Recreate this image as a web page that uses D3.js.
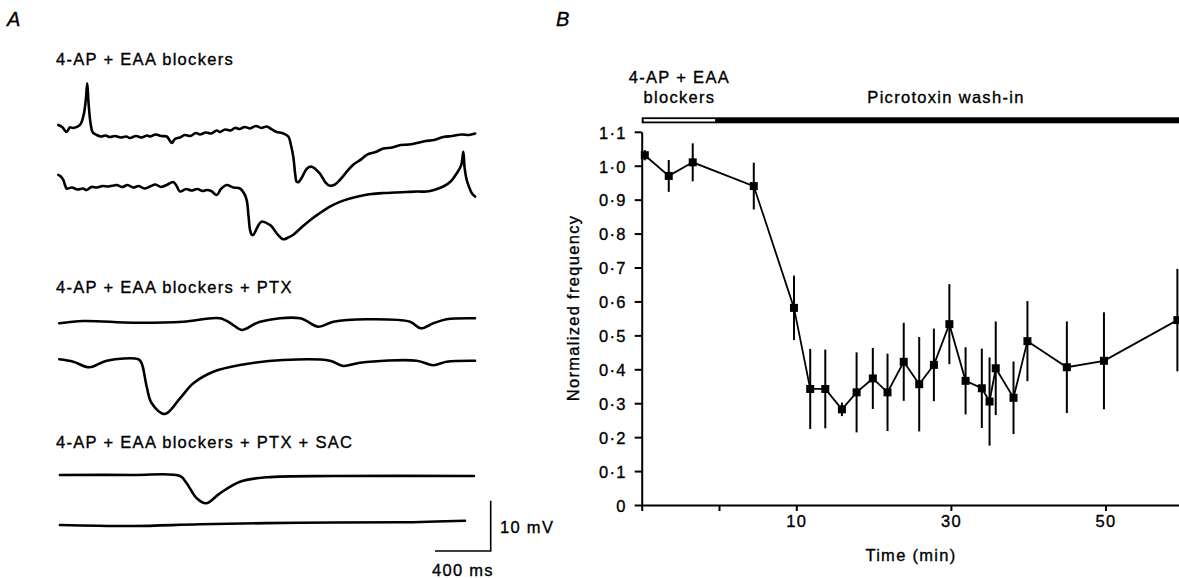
<!DOCTYPE html>
<html><head><meta charset="utf-8">
<script src="https://cdn.jsdelivr.net/npm/d3@7"></script>
<style>
body{margin:0;background:#fff}
svg text{font-family:"Liberation Sans",Arial,Helvetica,sans-serif;fill:#000;stroke:#000;stroke-width:0.35px;letter-spacing:1.3px}
</style>
</head><body>
<svg id="chart" width="1179" height="578"></svg>
<script>
// ---------------- DATA ----------------
// Panel A: traces, [time (ms), voltage (mV relative to trace baseline)]
const traceLabels = ["4-AP + EAA blockers", "4-AP + EAA blockers + PTX", "4-AP + EAA blockers + PTX + SAC"];
const traceEAA1 = [[2,2.4],[30,2.0],[62,1.0],[85,1.9],[110,1.8],[158,2.4],[185,4.5],[200,7.5],[210,10.7],[220,6.5],[235,2.5],[250,0.9],[278,0.4],[310,0.1],[340,0.3],[373,0],[410,0.2],[450,-0.1],[490,0.1],[517,-0.2],[560,0.2],[600,-0.1],[640,0.3],[661,0.1],[700,0.5],[740,0.2],[781,0.1],[800,-0.6],[817,-1.2],[840,-0.4],[876,-0.1],[910,0.4],[950,0.2],[990,0.8],[1020,0.5],[1060,0.9],[1100,0.7],[1140,1.3],[1163,1.0],[1200,1.5],[1240,1.3],[1270,1.8],[1307,1.6],[1340,2.0],[1380,1.7],[1420,2.2],[1460,1.8],[1499,2.1],[1530,1.6],[1571,1.0],[1610,0.8],[1654,0.1],[1672,-1.5],[1690,-4.0],[1704,-7.5],[1714,-8.9],[1730,-8.9],[1750,-8.1],[1790,-6.2],[1822,-5.9],[1850,-6.4],[1882,-7.3],[1920,-9.0],[1953,-9.7],[1990,-9.4],[2025,-8.5],[2080,-6.7],[2120,-5.5],[2169,-4.6],[2220,-3.5],[2280,-3.0],[2336,-2.3],[2400,-2.1],[2460,-1.6],[2520,-1.5],[2576,-1.2],[2640,-0.8],[2700,-0.6],[2767,0.0],[2830,0.2],[2900,0.5],[2950,0.4],[2995,0.7]];
const traceEAA2 = [[2,2.6],[20,2.3],[38,1.6],[50,0.6],[62,-0.1],[100,0.1],[140,-0.3],[180,-0.1],[206,-0.4],[240,0.2],[280,0.1],[320,0.4],[360,0.3],[400,0.5],[422,0.6],[460,0.2],[500,0.6],[540,0.1],[580,0.4],[620,-0.1],[661,0.3],[700,0.7],[740,0.2],[780,0.6],[828,1.2],[850,0.5],[876,-0.7],[920,-0.2],[960,-0.5],[1000,-0.2],[1040,-0.6],[1068,-0.4],[1100,-0.6],[1140,-1.4],[1170,-0.2],[1211,0.6],[1260,0.1],[1307,-0.1],[1335,-1.0],[1355,-2.4],[1368,-5.5],[1379,-8.3],[1392,-9.3],[1403,-9.3],[1430,-7.9],[1455,-6.8],[1474,-6.7],[1500,-7.0],[1530,-7.5],[1570,-9.0],[1600,-9.9],[1618,-10.2],[1650,-9.9],[1690,-9.3],[1750,-7.8],[1810,-6.4],[1880,-5.0],[1953,-3.7],[2020,-2.8],[2097,-2.1],[2170,-1.6],[2250,-1.2],[2336,-1.0],[2420,-0.9],[2500,-0.8],[2580,-0.7],[2648,-0.7],[2700,-0.4],[2767,0.3],[2820,1.3],[2863,2.9],[2895,4.5],[2911,7.2],[2920,4.0],[2935,1.6],[2955,0.0],[2971,-1.0],[2995,-1.7]];
const tracePTX1 = [[9,-0.46],[182,0],[541,-0.34],[900,-0.14],[1163,0.54],[1259,-0.8],[1319,-1.79],[1451,-0.14],[1738,0.54],[1869,-1.13],[1977,-0.14],[2217,0.34],[2528,-0.14],[2605,-1.45],[2695,-0.46],[2791,0.34],[2995,0.54]];
const tracePTX2 = [[9,0.14],[110,-0.34],[225,-1.45],[350,-0.14],[577,0.14],[601,-0.66],[637,-5.31],[673,-8.61],[768,-10.74],[876,-7.61],[972,-4.63],[1115,-2.33],[1307,-0.99],[1618,0],[1953,-0.14],[2049,-1.19],[2169,-0.54],[2576,-0.14],[2695,-1.05],[2791,-0.34],[2995,-0.14]];
const traceSAC1 = [[14,0.2],[541,0.2],[876,0],[924,-1.45],[996,-4.43],[1063,-5.43],[1163,-3.44],[1307,-1.13],[1499,-0.26],[1977,0],[2987,0]];
const traceSAC2 = [[14,-0.2],[541,-0.4],[1020,-0.06],[1738,0.26],[2456,0.34],[2923,0.66]];
const scaleBarMs = 400, scaleBarMv = 10;
const scaleBarLabels = ["10 mV", "400 ms"];

// Panel B
const timeMin = [-9.6,-6.5,-3.4,4.5,9.7,11.8,13.75,15.9,17.8,19.9,21.8,23.9,25.9,27.8,29.8,31.9,34.0,35.0,35.8,38.1,39.9,45.0,49.8,59.3];
const freqMean = [1.031,0.970,1.010,0.940,0.581,0.342,0.342,0.282,0.332,0.373,0.332,0.422,0.356,0.413,0.533,0.366,0.344,0.305,0.403,0.316,0.483,0.406,0.425,0.545];
const freqErr = [0.015,0.047,0.056,0.069,0.095,0.118,0.116,0.02,0.118,0.09,0.114,0.115,0.139,0.107,0.118,0.099,0.117,0.13,0.138,0.107,0.118,0.135,0.143,0.151];
const yTickValues = [0,0.1,0.2,0.3,0.4,0.5,0.6,0.7,0.8,0.9,1.0,1.1];
const yTickLabels = ["0","0·1","0·2","0·3","0·4","0·5","0·6","0·7","0·8","0·9","1·0","1·1"];
const xTickValues = [-10,0,10,30,50];
const xTickLabels = ["","","10","30","50"];
const phaseNames = [["4-AP + EAA","blockers"],["Picrotoxin wash-in"]];
const phaseBounds = [[-10,-0.5],[-0.5,60]];
const panelLetters = ["A","B"];
const axisTitles = ["Time (min)","Normalized frequency"];

// ---------------- DRAW ----------------
const svg = d3.select("#chart");
const FS = 16.5;

function label(x, y, str, anchor, size){
  return svg.append("text").attr("x", x).attr("y", y)
    .attr("text-anchor", anchor || "start").attr("font-size", size || FS).text(str);
}

// Panel letters
svg.append("text").attr("x", 7).attr("y", 26).attr("font-size", 20).attr("font-style","italic").text(panelLetters[0]);
svg.append("text").attr("x", 556).attr("y", 26).attr("font-size", 20).attr("font-style","italic").text(panelLetters[1]);

// ---- Panel A ----
const tx = d3.scaleLinear().domain([0, 3000]).range([58, 475.75]);
const pxPerMv = 5.03;
const traces = [
  {data: traceEAA1, base: 137},
  {data: traceEAA2, base: 188},
  {data: tracePTX1, base: 321},
  {data: tracePTX2, base: 360},
  {data: traceSAC1, base: 476},
  {data: traceSAC2, base: 524}
];
traces.forEach(tr => {
  const ty = d3.scaleLinear().domain([0, 10]).range([tr.base, tr.base - 10 * pxPerMv]);
  const line = d3.line().x(d => tx(d[0])).y(d => ty(d[1])).curve(d3.curveCatmullRom.alpha(0.5));
  svg.append("path").attr("d", line(tr.data)).attr("fill","none").attr("stroke","#000")
    .attr("stroke-width", 2.6).attr("stroke-linejoin","round").attr("stroke-linecap","round");
});
label(56, 65, traceLabels[0]);
label(56, 293, traceLabels[1]);
label(56, 448, traceLabels[2]);

// scale bar
const sbX = 490.7, sbY = 551;
const sbLen = tx(scaleBarMs) - tx(0);
svg.append("path").attr("d", `M${sbX - sbLen},${sbY}H${sbX}V${sbY - scaleBarMv * pxPerMv}`)
  .attr("fill","none").attr("stroke","#000").attr("stroke-width",1.6);
label(500, 533, scaleBarLabels[0]);
label(432, 576, scaleBarLabels[1]);

// ---- Panel B ----
const x = d3.scaleLinear().domain([-10, 60]).range([641.7, 1182.8]);
const y = d3.scaleLinear().domain([0, 1.1]).range([505, 131.8]);

const gy = svg.append("g").attr("transform", `translate(${x(-10)},0)`)
  .call(d3.axisLeft(y).tickValues(yTickValues).tickFormat((d,i) => yTickLabels[i]).tickSize(7).tickSizeOuter(0).tickPadding(8));
const gx = svg.append("g").attr("transform", `translate(0,${y(0)})`)
  .call(d3.axisBottom(x).tickValues(xTickValues).tickFormat((d,i) => xTickLabels[i]).tickSize(6).tickSizeOuter(0).tickPadding(4.2));
[gx, gy].forEach(g => {
  g.attr("font-family", null).attr("font-size", null);
  g.select(".domain").attr("stroke","#000").attr("stroke-width",2);
  g.selectAll(".tick line").attr("stroke","#000").attr("stroke-width",2);
  g.selectAll(".tick text").attr("font-size", FS).attr("fill","#000");
});
gy.selectAll(".tick text").attr("dy","0.38em");

label(911, 561, axisTitles[0], "middle");
svg.append("text").attr("transform","translate(579,308) rotate(-90)").attr("text-anchor","middle")
  .attr("font-size", FS).text(axisTitles[1]);

// phase bar
const barTop = 117.3, barH = 6;
svg.append("rect").attr("x", x(phaseBounds[0][0])).attr("y", barTop)
  .attr("width", x(phaseBounds[1][1]) - x(phaseBounds[0][0])).attr("height", barH).attr("fill","#000");
svg.append("rect").attr("x", x(phaseBounds[0][0]) + 2).attr("y", barTop + 1.8)
  .attr("width", x(phaseBounds[0][1]) - x(phaseBounds[0][0]) - 2).attr("height", barH - 3.6).attr("fill","#fff");
const c0 = (x(phaseBounds[0][0]) + x(phaseBounds[0][1])) / 2;
label(c0 + 1, 83, phaseNames[0][0], "middle");
label(c0 + 1, 103, phaseNames[0][1], "middle");
label(946, 103, phaseNames[1][0], "middle");

// data line
const pts = timeMin.map((t,i) => ({t, m: freqMean[i], e: freqErr[i]}));
svg.append("g").selectAll("line").data(pts).join("line")
  .attr("x1", d => x(d.t)).attr("x2", d => x(d.t))
  .attr("y1", d => y(d.m + d.e)).attr("y2", d => y(d.m - d.e))
  .attr("stroke","#000").attr("stroke-width",2);
svg.append("path").attr("d", d3.line().x(d => x(d.t)).y(d => y(d.m))(pts))
  .attr("fill","none").attr("stroke","#000").attr("stroke-width",1.8);
svg.append("g").selectAll("rect").data(pts).join("rect")
  .attr("x", d => x(d.t) - 4).attr("y", d => y(d.m) - 4).attr("width", 8).attr("height", 8).attr("fill","#000");
</script>
</body></html>
